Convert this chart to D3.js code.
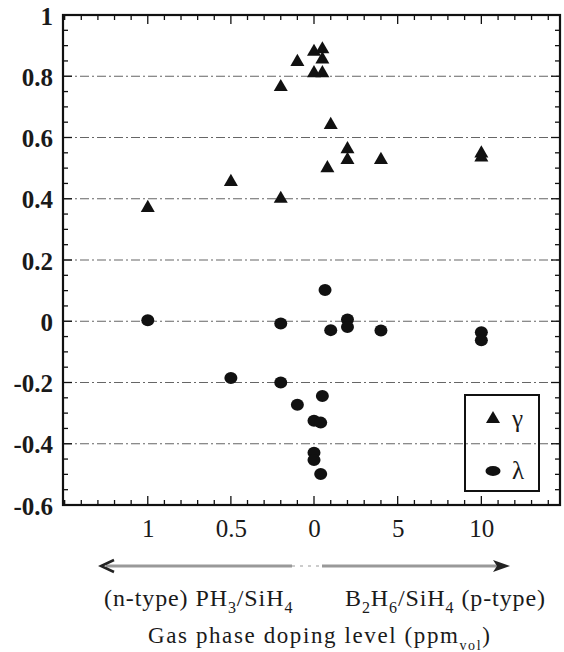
<!DOCTYPE html>
<html>
<head>
<meta charset="utf-8">
<script src="https://cdn.jsdelivr.net/npm/d3@7"></script>
<style>
  html, body { margin: 0; padding: 0; background: #fff; }
  svg { display: block; }
  svg text { font-family: "Liberation Serif", "Times New Roman", serif !important; fill: #1a1a1a; }
</style>
</head>
<body>
<div id="chart"></div>
<script>
// ---- data (signed doping: negative = PH3/SiH4 ppm, positive = B2H6/SiH4 ppm) ----
const gammaX = [-1, -0.5, -0.2, -0.2, -0.1, 0, 0, 0.5, 0.5, 0.5, 0.8, 1, 2, 2, 4, 10, 10];
const gammaY = [0.37, 0.455, 0.40, 0.765, 0.847, 0.88, 0.81, 0.888, 0.855, 0.81, 0.50, 0.641, 0.562, 0.527, 0.527, 0.548, 0.535];
const lambdaX = [-1, -0.5, -0.2, -0.2, -0.1, 0, 0, 0, 0.4, 0.4, 0.5, 0.66, 1, 2, 2, 4, 10, 10];
const lambdaY = [0.003, -0.185, -0.007, -0.2, -0.273, -0.325, -0.429, -0.453, -0.331, -0.499, -0.244, 0.102, -0.029, 0.006, -0.019, -0.03, -0.036, -0.062];
const xTickValues = [-1, -0.5, 0, 5, 10];
const xTickLabels = ["1", "0.5", "0", "5", "10"];
const yTickValues = [-0.6, -0.4, -0.2, 0, 0.2, 0.4, 0.6, 0.8, 1];
const yTickLabels = ["-0.6", "-0.4", "-0.2", "0", "0.2", "0.4", "0.6", "0.8", "1"];
const gridValues = [-0.4, -0.2, 0, 0.2, 0.4, 0.6, 0.8];
const legendLabels = ["\u03B3", "\u03BB"];

const W = 564, H = 652;
const L = 63, R = 560, T = 15, B = 505;
const SERIF = '"Liberation Serif", "Times New Roman", serif';

const svg = d3.select("#chart").append("svg").attr("width", W).attr("height", H)
  .attr("font-family", SERIF);

// piecewise linear x scale: PH3 side stretched, B2H6 side compressed
const x = d3.scaleLinear().domain([-1.51, 0, 14.7]).range([L, 314, R]);
const y = d3.scaleLinear().domain([-0.6, 1]).range([B, T]);

// gridlines
svg.append("g").selectAll("line").data(gridValues).join("line")
  .attr("x1", L).attr("x2", R)
  .attr("y1", d => y(d)).attr("y2", d => y(d))
  .attr("stroke", "#666").attr("stroke-width", 1.2)
  .attr("stroke-dasharray", "9,3,2,3");

// minor / major ticks
const xMinor = d3.range(-15, 1).map(v => v / 10).concat(d3.range(1, 15));
const yMinor = d3.range(-12, 21).map(v => v / 20);
const tickG = svg.append("g").attr("stroke", "#111").attr("stroke-width", 1.3);
function isMajorX(v) { return xTickValues.some(t => Math.abs(t - v) < 1e-9); }
function isMajorY(v) { return yTickValues.some(t => Math.abs(t - v) < 1e-9); }
xMinor.forEach(v => {
  const len = isMajorX(v) ? 9 : 5;
  const px = x(v);
  if (px <= L + 1 || px >= R - 1) return;
  tickG.append("line").attr("x1", px).attr("x2", px).attr("y1", B).attr("y2", B - len);
  tickG.append("line").attr("x1", px).attr("x2", px).attr("y1", T).attr("y2", T + len);
});
yMinor.forEach(v => {
  const len = isMajorY(v) ? 9 : 5;
  const py = y(v);
  if (py <= T + 1 || py >= B - 1) return;
  tickG.append("line").attr("x1", L).attr("x2", L + len).attr("y1", py).attr("y2", py);
  tickG.append("line").attr("x1", R).attr("x2", R - len).attr("y1", py).attr("y2", py);
});

// frame
svg.append("rect").attr("x", L).attr("y", T).attr("width", R - L).attr("height", B - T)
  .attr("fill", "none").attr("stroke", "#111").attr("stroke-width", 2.2);

// y axis labels
const yAxis = d3.axisLeft(y).tickValues(yTickValues).tickSize(0).tickPadding(10)
  .tickFormat((d, i) => yTickLabels[i]);
const yg = svg.append("g").attr("transform", `translate(${L},0)`).call(yAxis)
  .attr("font-family", SERIF).attr("font-size", 25).attr("font-weight", "bold");
yg.select(".domain").remove();
yg.selectAll("text").attr("fill", "#222").attr("dy", "0.36em");

// x axis labels
const xAxis = d3.axisBottom(x).tickValues(xTickValues).tickSize(0).tickPadding(14)
  .tickFormat((d, i) => xTickLabels[i]);
const xg = svg.append("g").attr("transform", `translate(0,${B})`).call(xAxis)
  .attr("font-family", SERIF).attr("font-size", 25);
xg.select(".domain").remove();
xg.selectAll("text").attr("fill", "#222");

// markers
const tri = d3.symbol().type(d3.symbolTriangle).size(85);
svg.append("g").selectAll("path").data(gammaX).join("path")
  .attr("d", tri)
  .attr("transform", (d, i) => `translate(${x(d)},${y(gammaY[i])})`)
  .attr("fill", "#111");
svg.append("g").selectAll("ellipse").data(lambdaX).join("ellipse")
  .attr("cx", d => x(d)).attr("cy", (d, i) => y(lambdaY[i]))
  .attr("rx", 6.5).attr("ry", 6).attr("fill", "#111");

// legend
const lg = svg.append("g");
lg.append("rect").attr("x", 465).attr("y", 395).attr("width", 74).attr("height", 96)
  .attr("fill", "none").attr("stroke", "#111").attr("stroke-width", 2);
lg.append("path").attr("d", tri).attr("transform", "translate(493,419)").attr("fill", "#111");
lg.append("ellipse").attr("cx", 493).attr("cy", 471).attr("rx", 7.5).attr("ry", 5).attr("fill", "#111");
lg.append("text").attr("x", 512).attr("y", 427).attr("font-size", 25).text(legendLabels[0]);
lg.append("text").attr("x", 512).attr("y", 479).attr("font-size", 25).text(legendLabels[1]);

// doping arrow
const arrowY = 566;
svg.append("line").attr("x1", 106).attr("x2", 292).attr("y1", arrowY).attr("y2", arrowY)
  .attr("stroke", "#999").attr("stroke-width", 3);
svg.append("line").attr("x1", 322).attr("x2", 500).attr("y1", arrowY).attr("y2", arrowY)
  .attr("stroke", "#999").attr("stroke-width", 3);
svg.append("line").attr("x1", 292).attr("x2", 322).attr("y1", arrowY).attr("y2", arrowY)
  .attr("stroke", "#ccc").attr("stroke-width", 2).attr("stroke-dasharray", "3,5");
svg.append("path").attr("d", `M114,${arrowY - 6} L101,${arrowY} L114,${arrowY + 6}`)
  .attr("fill", "none").attr("stroke", "#222").attr("stroke-width", 2.5);
svg.append("path").attr("d", `M493,${arrowY - 6} L510,${arrowY} L493,${arrowY + 6} L497,${arrowY} Z`)
  .attr("fill", "#222");

// dopant labels
const t1 = svg.append("text").attr("x", 104).attr("y", 606).attr("font-size", 24)
  .attr("letter-spacing", 0.9);
t1.append("tspan").text("(n-type)  PH");
t1.append("tspan").attr("dy", 7).attr("font-size", 16).text("3");
t1.append("tspan").attr("dy", -7).text("/SiH");
t1.append("tspan").attr("dy", 7).attr("font-size", 16).text("4");

const t2 = svg.append("text").attr("x", 345).attr("y", 606).attr("font-size", 24)
  .attr("letter-spacing", 0.9);
t2.append("tspan").text("B");
t2.append("tspan").attr("dy", 7).attr("font-size", 16).text("2");
t2.append("tspan").attr("dy", -7).text("H");
t2.append("tspan").attr("dy", 7).attr("font-size", 16).text("6");
t2.append("tspan").attr("dy", -7).text("/SiH");
t2.append("tspan").attr("dy", 7).attr("font-size", 16).text("4");
t2.append("tspan").attr("dy", -7).text(" (p-type)");

// axis title
const t3 = svg.append("text").attr("x", 148).attr("y", 643).attr("font-size", 23)
  .attr("letter-spacing", 1.6);
t3.append("tspan").text("Gas phase doping level (ppm");
t3.append("tspan").attr("dy", 7).attr("font-size", 14).text("vol");
t3.append("tspan").attr("dy", -7).text(")");
</script>
</body>
</html>
